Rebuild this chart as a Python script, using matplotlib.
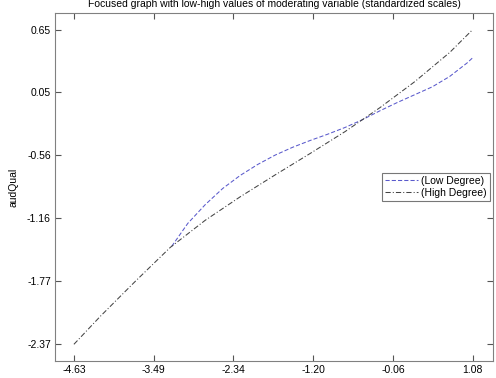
import matplotlib
matplotlib.use("Agg")
import matplotlib.pyplot as plt
import numpy as np

plt.rcParams['font.family'] = ['Liberation Sans', 'DejaVu Sans']

# --- data (standardized scales) ---
low_x = [-3.23, -3.0, -2.75, -2.5, -2.25, -2.0, -1.75, -1.5, -1.25, -1.0,
         -0.75, -0.5, -0.25, 0.0, 0.25, 0.5, 0.75, 1.0, 1.08]
low_y = [-1.43, -1.21, -1.03, -0.875, -0.75, -0.645, -0.555, -0.48, -0.415, -0.355,
         -0.29, -0.215, -0.13, -0.05, 0.025, 0.10, 0.20, 0.33, 0.38]

high_x = [-4.63, -4.25, -3.75, -3.25, -2.75, -2.25, -1.75, -1.25, -0.75,
          -0.25, 0.25, 0.75, 1.08]
high_y = [-2.37, -2.10, -1.765, -1.44, -1.18, -0.955, -0.745, -0.54, -0.33,
          -0.10, 0.15, 0.43, 0.65]

x_ticklabels = ['-4.63', '-3.49', '-2.34', '-1.20', '-0.06', '1.08']
y_ticklabels = ['-2.37', '-1.77', '-1.16', '-0.56', '0.05', '0.65']

title = 'Focused graph with low-high values of moderating variable (standardized scales)'

fig = plt.figure(figsize=(4.96, 3.78), dpi=100)
ax = fig.add_axes([0.111, 0.045, 0.883, 0.921])

ax.plot(low_x, low_y, color='#5a5acc', lw=0.75, linestyle=(0, (4, 2)), label='(Low Degree)')
ax.plot(high_x, high_y, color='#444444', lw=0.75, linestyle=(0, (5, 2, 1, 2)), label='(High Degree)')

ax.set_xlim(-4.90, 1.37)
ax.set_ylim(-2.53, 0.81)
ax.set_xticks(np.linspace(-4.63, 1.08, 6))
ax.set_xticklabels(x_ticklabels)
ax.set_yticks(np.linspace(-2.37, 0.65, 6))
ax.set_yticklabels(y_ticklabels)

ax.tick_params(direction='in', length=4, width=0.8, color='#555555',
               top=True, right=True, labelsize=7.5, pad=3)
for s in ax.spines.values():
    s.set_color('#808080')
    s.set_linewidth(0.8)

ax.set_title(title, fontsize=7.5, pad=4)
ax.set_ylabel('audQual', fontsize=7.5, labelpad=6)
ax.set_xlabel('vidQual', fontsize=7.5, labelpad=3)

leg = ax.legend(loc='center right', fontsize=7.5, frameon=True, fancybox=False,
                handlelength=3.2, handletextpad=0.3, borderpad=0.3,
                labelspacing=0.2, borderaxespad=0.3)
leg.get_frame().set_edgecolor('#555555')
leg.get_frame().set_linewidth(0.8)

fig.savefig('out.png', dpi=100)
